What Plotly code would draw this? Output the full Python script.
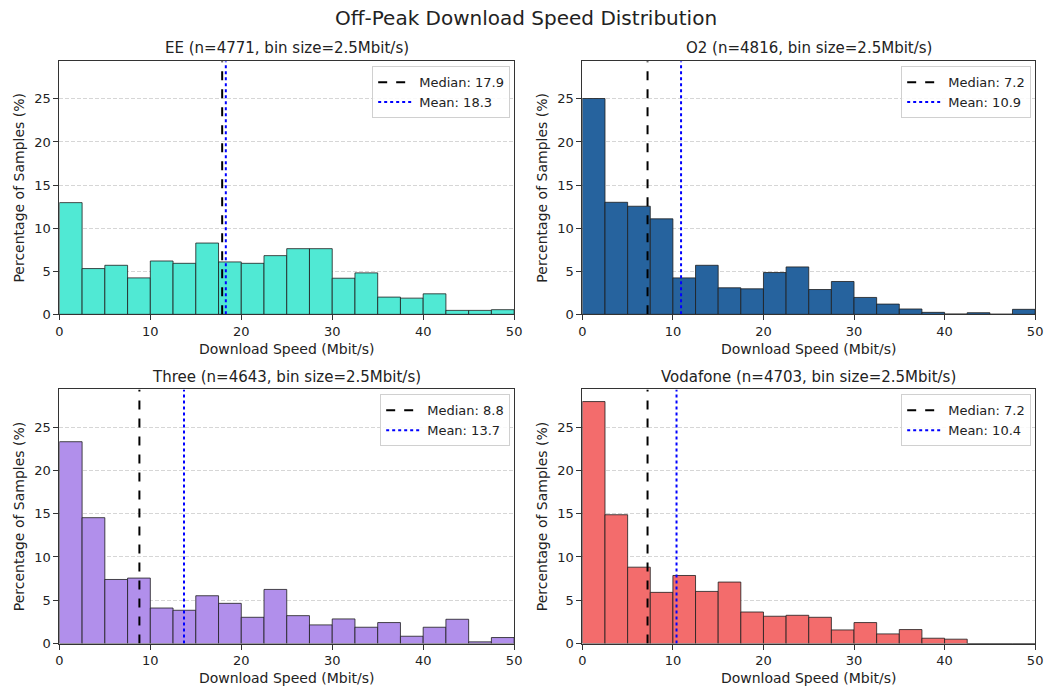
import plotly.graph_objects as go

# ---------------- data ----------------
bin_size = 2.5
bin_edges = [i * 2.5 for i in range(21)]  # 0 .. 50
operators = ["EE", "O2", "Three", "Vodafone"]
sample_counts = [4771, 4816, 4643, 4703]

ee_pct = [12.96, 5.31, 5.69, 4.23, 6.19, 5.92, 8.27, 6.08, 5.92, 6.81,
          7.62, 7.62, 4.19, 4.81, 2.00, 1.88, 2.38, 0.46, 0.46, 0.54]
o2_pct = [25.04, 13.00, 12.54, 11.08, 4.23, 5.69, 3.08, 2.96, 4.85, 5.50,
          2.88, 3.81, 1.96, 1.19, 0.62, 0.23, 0.04, 0.19, 0.02, 0.58]
three_pct = [23.32, 14.54, 7.40, 7.56, 4.10, 3.84, 5.52, 4.64, 3.03, 6.25,
             3.22, 2.15, 2.84, 1.88, 2.42, 0.84, 1.88, 2.80, 0.19, 0.69]
vodafone_pct = [27.96, 14.88, 8.82, 5.91, 7.86, 6.02, 7.10, 3.64, 3.15, 3.26,
                3.03, 1.57, 2.42, 1.11, 1.61, 0.61, 0.50, 0.0, 0.0, 0.0]

medians = [17.9, 7.2, 8.8, 7.2]
means = [18.3, 10.9, 13.7, 10.4]

bar_colors = ["rgb(80,233,212)", "rgb(38,99,158)", "rgb(177,143,235)", "rgb(243,108,108)"]

# ---------------- layout geometry ----------------
W, H = 1055, 695
x_domains = [(56 / W, 516 / W), (585 / W, 1043 / W), (56 / W, 516 / W), (585 / W, 1043 / W)]
y_domains = [(1 - 318 / H, 1 - 62 / H), (1 - 318 / H, 1 - 62 / H),
             (1 - 651 / H, 1 - 394 / H), (1 - 651 / H, 1 - 394 / H)]
y_max = max(max(ee_pct), max(o2_pct), max(three_pct), max(vodafone_pct)) * 1.05

FONT = "DejaVu Sans"
all_pct = [ee_pct, o2_pct, three_pct, vodafone_pct]
centers = [(bin_edges[i] + bin_edges[i + 1]) / 2 for i in range(len(bin_edges) - 1)]

fig = go.Figure()
layout = dict(
    width=W, height=H,
    margin=dict(l=0, r=0, t=0, b=0),
    paper_bgcolor="white", plot_bgcolor="white",
    font=dict(family=FONT, size=13, color="#222"),
    showlegend=True,
    annotations=[],
)

for k in range(4):
    ax = "" if k == 0 else str(k + 1)
    xref, yref = "x" + ax, "y" + ax
    leg = "legend" if k == 0 else "legend" + str(k + 1)
    fig.add_trace(go.Bar(
        x=centers, y=all_pct[k], width=bin_size,
        marker=dict(color=bar_colors[k], line=dict(color="rgba(30,30,30,0.8)", width=1)),
        xaxis=xref, yaxis=yref, showlegend=False, hoverinfo="skip",
    ))
    fig.add_trace(go.Scatter(
        x=[medians[k], medians[k]], y=[0, y_max], mode="lines",
        line=dict(color="black", width=2, dash="dash"),
        name=f"Median: {medians[k]:.1f}", xaxis=xref, yaxis=yref, legend=leg,
    ))
    fig.add_trace(go.Scatter(
        x=[means[k], means[k]], y=[0, y_max], mode="lines",
        line=dict(color="blue", width=2, dash="dot"),
        name=f"Mean: {means[k]:.1f}", xaxis=xref, yaxis=yref, legend=leg,
    ))

    layout["xaxis" + ax] = dict(
        domain=x_domains[k], anchor=yref, range=[0, 50],
        tickvals=[0, 10, 20, 30, 40, 50], ticks="outside", ticklen=5, tickcolor="#333",
        showline=True, mirror=True, linecolor="#333", linewidth=1,
        showgrid=False, zeroline=False,
        title=dict(text="Download Speed (Mbit/s)", font=dict(size=14), standoff=6),
        tickfont=dict(size=13),
    )
    layout["yaxis" + ax] = dict(
        domain=y_domains[k], anchor=xref, range=[0, y_max],
        tickvals=[0, 5, 10, 15, 20, 25], ticks="outside", ticklen=5, tickcolor="#333",
        showline=True, mirror=True, linecolor="#333", linewidth=1,
        showgrid=True, gridcolor="rgba(0,0,0,0.16)", griddash="4px,2px", gridwidth=1,
        zeroline=False,
        title=dict(text="Percentage of Samples (%)", font=dict(size=14), standoff=6),
        tickfont=dict(size=13),
    )
    layout[leg] = dict(
        x=x_domains[k][1] - 4 / W, y=y_domains[k][1] - 5 / H,
        xanchor="right", yanchor="top",
        bgcolor="rgba(255,255,255,0.85)", bordercolor="#d0d0d0", borderwidth=1,
        font=dict(size=13, color="#222"), tracegroupgap=0, itemwidth=36,
    )
    layout["annotations"].append(dict(
        text=f"{operators[k]} (n={sample_counts[k]}, bin size={bin_size}Mbit/s)",
        x=(x_domains[k][0] + x_domains[k][1]) / 2, y=y_domains[k][1] + 13 / H,
        xref="paper", yref="paper", xanchor="center", yanchor="middle",
        showarrow=False, font=dict(size=15, color="#222"),
    ))

layout["annotations"].append(dict(
    text="Off-Peak Download Speed Distribution",
    x=0.5, y=1 - 18 / H, xref="paper", yref="paper",
    xanchor="center", yanchor="middle", showarrow=False,
    font=dict(size=20, color="#222"),
))

fig.update_layout(**layout)
fig.write_html("out.html")
